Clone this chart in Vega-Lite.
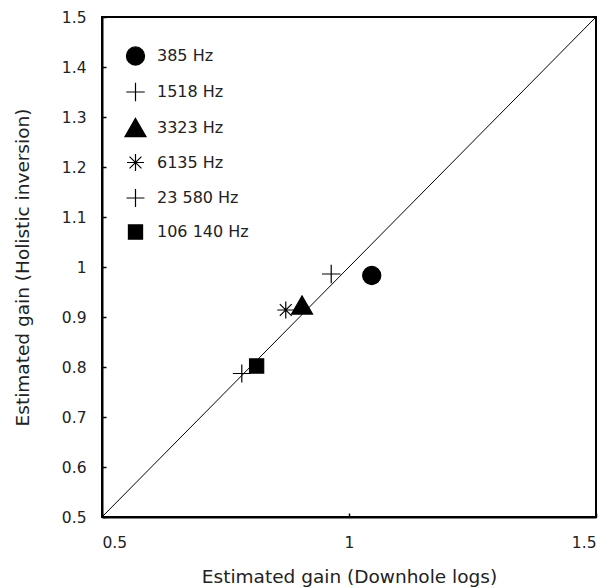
{
  "$schema": "https://vega.github.io/schema/vega-lite/v6.json",
  "width": 494,
  "height": 500,
  "autosize": {"type": "none"},
  "padding": {"left": 102, "top": 17, "right": 16, "bottom": 71},
  "background": "white",
  "config": {
    "font": "DejaVu Sans",
    "view": {"stroke": "black", "strokeWidth": 2},
    "axis": {
      "domainColor": "black",
      "domainWidth": 2,
      "tickColor": "black",
      "tickWidth": 1.5,
      "tickSize": -4,
      "grid": false,
      "labelFont": "DejaVu Sans",
      "labelFontSize": 15.5,
      "labelColor": "#222",
      "titleFont": "DejaVu Sans",
      "titleFontSize": 18.5,
      "titleFontWeight": "normal",
      "titleColor": "#222"
    }
  },
  "datasets": {
    "pts": [
      {"freq": "385 Hz", "downhole": 1.046, "holistic": 0.983},
      {"freq": "1518 Hz", "downhole": 0.964, "holistic": 0.986},
      {"freq": "3323 Hz", "downhole": 0.905, "holistic": 0.924},
      {"freq": "6135 Hz", "downhole": 0.872, "holistic": 0.914},
      {"freq": "23 580 Hz", "downhole": 0.783, "holistic": 0.787},
      {"freq": "106 140 Hz", "downhole": 0.813, "holistic": 0.802}
    ],
    "diag": [
      {"downhole": 0.5, "holistic": 0.5},
      {"downhole": 1.5, "holistic": 1.5}
    ]
  },
  "layer": [
    {
      "data": {"name": "diag"},
      "mark": {"type": "line", "color": "black", "strokeWidth": 1},
      "encoding": {
        "x": {"field": "downhole", "type": "quantitative",
          "scale": {"domain": [0.5, 1.5], "nice": false, "zero": false},
          "axis": {"title": "Estimated gain (Downhole logs)", "values": [0.5, 1, 1.5], "format": "~g", "labelPadding": 22, "titlePadding": 17}},
        "y": {"field": "holistic", "type": "quantitative",
          "scale": {"domain": [0.5, 1.5], "nice": false, "zero": false},
          "axis": {"title": "Estimated gain (Holistic inversion)", "values": [0.5, 0.6, 0.7, 0.8, 0.9, 1, 1.1, 1.2, 1.3, 1.4, 1.5], "format": "~g", "labelPadding": 20, "titlePadding": 29}}
      }
    },
    {
      "data": {"name": "pts"},
      "mark": {"type": "point", "stroke": "black", "strokeWidth": 1.2, "opacity": 1},
      "encoding": {
        "x": {"field": "downhole", "type": "quantitative"},
        "y": {"field": "holistic", "type": "quantitative"},
        "shape": {"field": "freq", "type": "nominal",
          "scale": {"domain": ["385 Hz", "1518 Hz", "3323 Hz", "6135 Hz", "23 580 Hz", "106 140 Hz"],
            "range": ["circle", "M-1,0L1,0M0,-1L0,1", "triangle-up", "M-1,0L1,0M0,-1L0,1M-0.7,-0.7L0.7,0.7M-0.7,0.7L0.7,-0.7", "M-1,0L1,0M0,-1L0,1", "square"]},
          "legend": {"title": null, "orient": "none", "legendX": 22, "legendY": 29, "labelFontSize": 16, "labelFont": "DejaVu Sans", "labelColor": "#222", "labelOffset": 10, "rowPadding": 12, "symbolStrokeColor": "black", "symbolStrokeWidth": 1.2}},
        "fill": {"field": "freq", "type": "nominal",
          "scale": {"domain": ["385 Hz", "1518 Hz", "3323 Hz", "6135 Hz", "23 580 Hz", "106 140 Hz"],
            "range": ["black", "transparent", "black", "transparent", "transparent", "black"]}},
        "size": {"field": "freq", "type": "nominal",
          "scale": {"type": "ordinal", "domain": ["385 Hz", "1518 Hz", "3323 Hz", "6135 Hz", "23 580 Hz", "106 140 Hz"],
            "range": [330, 340, 441, 289, 320, 200]}}
      }
    }
  ]
}
